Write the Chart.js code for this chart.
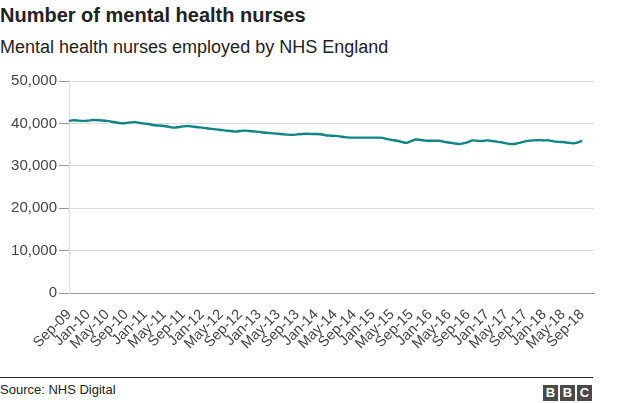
<!DOCTYPE html>
<html>
<head>
<meta charset="utf-8">
<script src="https://cdn.jsdelivr.net/npm/chart.js@4/dist/chart.umd.min.js"></script>
<style>
    body { margin: 0; background: #fff; font-family: "Liberation Sans", Arial, sans-serif; }
    #title { position: absolute; left: 0; top: 4px; font-size: 20px; font-weight: bold; color: #222; }
    #subtitle { position: absolute; left: 0; top: 37px; font-size: 18px; color: #222; }
    #wrap { position: absolute; left: 0; top: 62px; width: 624px; height: 308px; }
    #rule { position: absolute; left: 0; top: 377px; width: 593px; height: 1px; background: #222; }
    #source { position: absolute; left: 0; top: 382px; font-size: 13px; color: #222; }
    #bbc { position: absolute; left: 541px; top: 383px; }
    #bbc span { display: inline-block; width: 15px; height: 16px; margin-left: 2px; background: #4a4a4a; color: #fff;
        font-weight: bold; font-size: 13px; line-height: 16px; text-align: center; }
</style>
</head>
<body>
<div id="title">Number of mental health nurses</div>
<div id="subtitle">Mental health nurses employed by NHS England</div>
<div id="wrap"><canvas id="nursesChart" width="624" height="308"></canvas></div>
<div id="rule"></div>
<div id="source">Source: NHS Digital</div>
<div id="bbc"><span>B</span><span>B</span><span>C</span></div>
<script>
// месяцы Sep-09 ... Sep-18, подпись каждые 4 месяца
var months = ['Sep-09','Oct-09','Nov-09','Dec-09','Jan-10','Feb-10','Mar-10','Apr-10','May-10','Jun-10','Jul-10','Aug-10',
    'Sep-10','Oct-10','Nov-10','Dec-10','Jan-11','Feb-11','Mar-11','Apr-11','May-11','Jun-11','Jul-11','Aug-11',
    'Sep-11','Oct-11','Nov-11','Dec-11','Jan-12','Feb-12','Mar-12','Apr-12','May-12','Jun-12','Jul-12','Aug-12',
    'Sep-12','Oct-12','Nov-12','Dec-12','Jan-13','Feb-13','Mar-13','Apr-13','May-13','Jun-13','Jul-13','Aug-13',
    'Sep-13','Oct-13','Nov-13','Dec-13','Jan-14','Feb-14','Mar-14','Apr-14','May-14','Jun-14','Jul-14','Aug-14',
    'Sep-14','Oct-14','Nov-14','Dec-14','Jan-15','Feb-15','Mar-15','Apr-15','May-15','Jun-15','Jul-15','Aug-15',
    'Sep-15','Oct-15','Nov-15','Dec-15','Jan-16','Feb-16','Mar-16','Apr-16','May-16','Jun-16','Jul-16','Aug-16',
    'Sep-16','Oct-16','Nov-16','Dec-16','Jan-17','Feb-17','Mar-17','Apr-17','May-17','Jun-17','Jul-17','Aug-17',
    'Sep-17','Oct-17','Nov-17','Dec-17','Jan-18','Feb-18','Mar-18','Apr-18','May-18','Jun-18','Jul-18','Aug-18',
    'Sep-18'];

var nurses = [40600, 40750, 40650, 40600, 40650, 40800, 40750, 40700, 40600, 40400, 40200, 40050,
    40100, 40250, 40300, 40100, 39950, 39800, 39550, 39500, 39400, 39200, 39000, 39100,
    39300, 39400, 39250, 39100, 39000, 38850, 38700, 38600, 38450, 38300, 38200, 38050,
    38200, 38300, 38200, 38100, 38000, 37850, 37750, 37650, 37550, 37450, 37350, 37300,
    37400, 37500, 37550, 37500, 37500, 37450, 37200, 37100, 37050, 36950, 36750, 36650,
    36650, 36650, 36650, 36650, 36650, 36650, 36600, 36300, 36100, 35900, 35650, 35400,
    35800, 36200, 36100, 35950, 35900, 35900, 35900, 35650, 35500, 35300, 35150, 35300,
    35600, 36000, 35900, 35850, 36000, 35850, 35700, 35550, 35300, 35150, 35200, 35450,
    35750, 35950, 36000, 36050, 36000, 36000, 35750, 35650, 35600, 35450, 35300, 35450,
    35900];

var yTicks = [0, 10000, 20000, 30000, 40000, 50000];

var points = nurses.map(function(v, i) {
    return { x: i, y: v };
});

var ctx = document.getElementById('nursesChart').getContext('2d');
new Chart(ctx, {
    type: 'line',
    data: {
        datasets: [{
            data: points,
            borderColor: '#0f8585',
            borderWidth: 2.4,
            pointRadius: 0,
            tension: 0.3,
            fill: false
        }]
    },
    options: {
        responsive: false,
        animation: false,
        layout: { padding: { top: 19, right: 30, left: 0, bottom: 0 } },
        plugins: {
            legend: { display: false },
            tooltip: { enabled: false }
        },
        scales: {
            x: {
                type: 'linear',
                min: 0,
                max: 110.5,
                afterBuildTicks: function(scale) {
                    scale.ticks = months.map(function(m, i) { return { value: i }; })
                        .filter(function(t) { return t.value % 4 === 0; });
                },
                afterFit: function(scale) { scale.height = 77; },
                grid: { display: false },
                border: { display: true, color: '#999', width: 1 },
                ticks: {
                    autoSkip: false,
                    minRotation: 45,
                    maxRotation: 45,
                    padding: 5,
                    color: '#444',
                    font: { family: 'Liberation Sans', size: 14.5 },
                    callback: function(v) { return months[v]; }
                }
            },
            y: {
                min: 0,
                max: 50000,
                afterBuildTicks: function(scale) {
                    scale.ticks = yTicks.map(function(v) { return { value: v }; });
                },
                afterFit: function(scale) { scale.width = 69; },
                grid: { color: '#dcdcdc', lineWidth: 1, drawTicks: true, tickLength: 10, tickColor: '#999' },
                border: { display: true, color: '#dcdcdc' },
                ticks: {
                    padding: 2,
                    color: '#444',
                    font: { family: 'Liberation Sans', size: 15 },
                    callback: function(v) { return v.toLocaleString('en-GB'); }
                }
            }
        }
    }
});
</script>
</body>
</html>
